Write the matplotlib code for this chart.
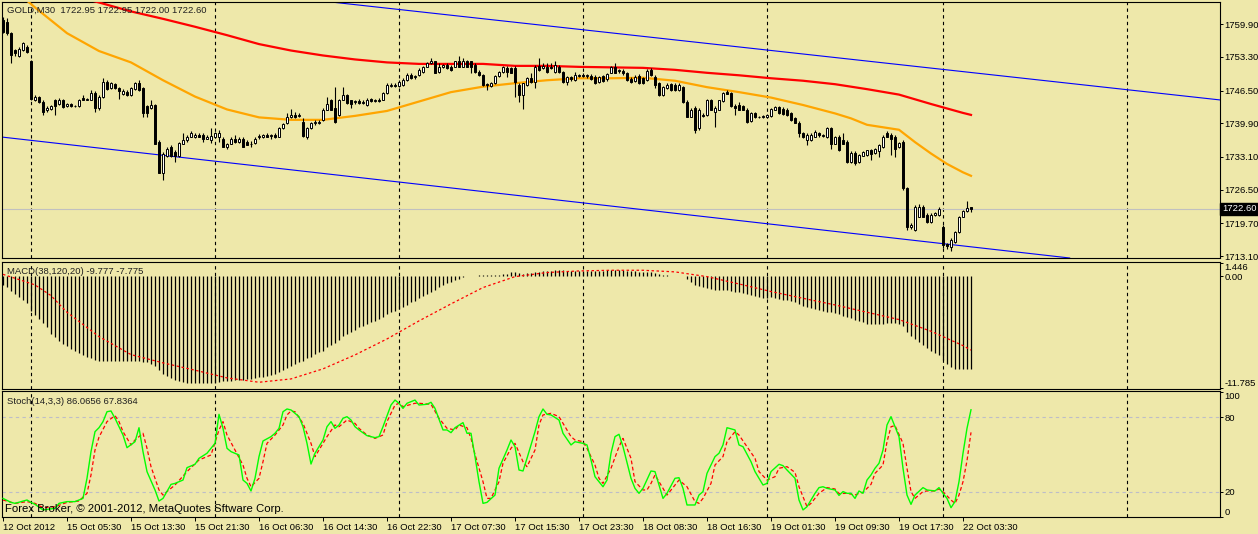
import matplotlib
matplotlib.use("Agg")
import matplotlib.pyplot as plt
from matplotlib.transforms import blended_transform_factory
import numpy as np

plt.rcParams['font.family'] = ['Liberation Sans', 'DejaVu Sans']

# ---------------- data (GOLD, M30) ----------------
opens = [
    1760.8, 1760.4, 1758.1, 1754.7, 1753.4, 1754.7, 1755.4, 1752.5, 1744.7, 1745.3,
    1744.3, 1742.6, 1742.7, 1744.6, 1743.8, 1744.6, 1743.3, 1743.8, 1743.3, 1743.3,
    1745.1, 1744.7, 1744.7, 1746.1, 1742.9, 1745.3, 1748.3, 1747.0, 1747.8, 1747.0,
    1745.8, 1746.3, 1745.6, 1746.8, 1748.1, 1747.0, 1743.3, 1742.9, 1743.6, 1736.2,
    1729.9, 1733.2, 1735.2, 1734.2, 1733.2, 1735.8, 1736.5, 1737.2, 1737.2, 1737.5,
    1737.5, 1736.8, 1736.5, 1737.1, 1737.1, 1736.8, 1735.1, 1735.8, 1736.8, 1736.2,
    1736.7, 1736.2, 1735.8, 1736.0, 1737.1, 1737.2, 1737.5, 1737.3, 1737.5, 1737.2,
    1738.9, 1739.9, 1741.1, 1741.6, 1741.4, 1740.2, 1737.2, 1738.9, 1739.9, 1740.0,
    1740.6, 1742.6, 1744.6, 1742.9, 1741.6, 1744.7, 1745.6, 1744.6, 1744.3, 1744.5,
    1744.1, 1743.6, 1744.8, 1744.4, 1744.6, 1744.7, 1746.1, 1747.4, 1747.6, 1747.4,
    1747.6, 1748.7, 1749.7, 1749.2, 1749.7, 1750.3, 1751.3, 1752.0, 1752.4, 1750.3,
    1751.3, 1751.7, 1751.3, 1751.3, 1752.4, 1751.3, 1752.4, 1752.4, 1751.7, 1750.3,
    1749.7, 1747.8, 1747.4, 1748.0, 1749.5, 1750.3, 1751.1, 1751.0, 1751.0, 1747.6,
    1745.6, 1747.6, 1749.0, 1748.3, 1751.5, 1751.0, 1751.3, 1751.3, 1750.3, 1751.3,
    1750.3, 1748.3, 1749.2, 1748.7, 1749.5, 1749.6, 1749.5, 1749.5, 1749.3, 1748.3,
    1749.5, 1748.8, 1750.1, 1751.3, 1750.4, 1750.5, 1750.1, 1748.8, 1748.5, 1749.5,
    1749.0, 1748.7, 1750.7, 1749.3, 1748.1, 1745.6, 1747.0, 1747.8, 1747.6, 1746.6,
    1747.2, 1744.3, 1741.2, 1742.9, 1738.9, 1741.6, 1741.6, 1744.6, 1742.2, 1742.6,
    1744.5, 1746.3, 1746.1, 1743.4, 1743.6, 1743.4, 1742.6, 1740.4, 1741.9, 1741.1,
    1741.2, 1741.2, 1741.4, 1742.6, 1743.1, 1742.7, 1742.6, 1741.9, 1740.9, 1740.0,
    1737.9, 1736.5, 1736.5, 1737.2, 1737.9, 1737.3, 1737.1, 1738.9, 1735.8, 1737.2,
    1736.5, 1736.2, 1732.1, 1734.0, 1732.1, 1733.3, 1733.5, 1734.5, 1734.0, 1734.4,
    1735.2, 1737.9, 1737.5, 1737.1, 1735.2, 1736.2, 1726.8, 1719.0, 1718.3, 1721.0,
    1723.1, 1721.4, 1720.0, 1721.4, 1721.4, 1719.0, 1715.5, 1715.0, 1716.0, 1718.0,
    1721.0, 1722.1, 1722.95,
]
highs = [
    1761.4, 1761.1, 1758.4, 1755.0, 1755.4, 1756.4, 1755.7, 1752.7, 1745.6, 1745.5,
    1744.6, 1743.4, 1743.6, 1744.8, 1745.1, 1744.9, 1744.1, 1744.0, 1743.6, 1744.9,
    1745.6, 1745.1, 1746.6, 1746.5, 1745.6, 1749.0, 1748.7, 1748.3, 1748.1, 1747.3,
    1746.8, 1746.6, 1747.2, 1748.3, 1748.7, 1747.2, 1743.6, 1744.6, 1743.9, 1736.5,
    1734.2, 1735.2, 1735.5, 1734.5, 1736.2, 1738.0, 1737.5, 1738.3, 1737.9, 1738.0,
    1738.0, 1737.5, 1738.9, 1738.2, 1738.5, 1737.2, 1736.0, 1737.2, 1737.5, 1737.2,
    1737.1, 1736.5, 1736.4, 1737.2, 1737.7, 1737.7, 1737.9, 1737.7, 1737.9, 1739.2,
    1740.0, 1741.9, 1742.7, 1742.2, 1741.9, 1740.9, 1739.2, 1740.2, 1740.6, 1740.6,
    1742.9, 1745.3, 1744.9, 1747.3, 1744.9, 1747.3, 1745.9, 1744.7, 1744.7, 1744.9,
    1744.6, 1745.1, 1745.1, 1744.9, 1745.0, 1746.3, 1748.0, 1748.0, 1748.1, 1748.7,
    1749.0, 1750.0, 1750.0, 1749.7, 1751.0, 1751.5, 1752.3, 1753.0, 1752.5, 1752.0,
    1751.9, 1752.0, 1751.7, 1752.5, 1753.5, 1753.0, 1752.7, 1752.5, 1752.0, 1750.7,
    1749.9, 1748.1, 1748.3, 1749.7, 1750.5, 1751.5, 1751.5, 1751.3, 1751.5, 1748.0,
    1748.1, 1749.2, 1750.1, 1751.7, 1753.0, 1752.0, 1752.0, 1752.0, 1752.4, 1751.7,
    1750.5, 1749.5, 1749.5, 1750.3, 1749.9, 1750.0, 1749.9, 1749.9, 1749.7, 1749.5,
    1749.7, 1750.1, 1751.5, 1752.1, 1750.8, 1750.8, 1750.3, 1749.2, 1749.7, 1749.9,
    1749.3, 1750.8, 1751.0, 1749.7, 1748.3, 1747.4, 1748.0, 1748.1, 1748.0, 1748.0,
    1747.4, 1744.6, 1742.9, 1743.3, 1742.9, 1741.9, 1744.9, 1744.9, 1743.3, 1744.7,
    1746.3, 1746.6, 1746.3, 1743.8, 1744.3, 1743.6, 1742.9, 1742.2, 1742.2, 1741.4,
    1741.5, 1741.8, 1742.9, 1743.4, 1743.4, 1743.1, 1742.9, 1742.2, 1741.2, 1740.4,
    1738.2, 1737.9, 1737.9, 1738.5, 1738.2, 1737.7, 1739.2, 1739.2, 1737.3, 1737.5,
    1737.9, 1736.5, 1734.4, 1734.4, 1733.7, 1734.4, 1734.6, 1734.8, 1735.0, 1735.7,
    1737.5, 1738.4, 1737.9, 1737.5, 1736.2, 1736.5, 1727.0, 1719.7, 1723.4, 1723.7,
    1723.4, 1721.7, 1721.7, 1722.0, 1722.9, 1719.4, 1715.8, 1716.7, 1718.2, 1721.2,
    1722.4, 1724.2, 1722.95,
]
lows = [
    1758.1, 1757.7, 1752.0, 1753.4, 1753.2, 1754.6, 1754.2, 1744.6, 1744.5, 1744.1,
    1741.6, 1742.2, 1742.6, 1741.6, 1743.6, 1742.9, 1743.1, 1743.1, 1743.1, 1743.1,
    1744.6, 1744.6, 1744.6, 1742.2, 1742.6, 1745.1, 1746.6, 1746.8, 1746.8, 1744.9,
    1745.6, 1745.5, 1745.4, 1746.6, 1746.5, 1741.2, 1741.2, 1742.7, 1735.7, 1729.8,
    1728.5, 1733.0, 1733.0, 1732.1, 1733.0, 1735.7, 1736.2, 1737.1, 1736.9, 1737.1,
    1736.2, 1736.7, 1736.0, 1736.9, 1736.2, 1735.1, 1734.8, 1735.7, 1736.0, 1736.0,
    1735.1, 1735.5, 1735.2, 1735.7, 1736.8, 1736.9, 1737.1, 1736.7, 1736.9, 1737.1,
    1738.7, 1739.8, 1740.9, 1740.9, 1741.1, 1737.2, 1736.7, 1738.7, 1739.6, 1739.8,
    1740.4, 1742.5, 1742.5, 1740.0, 1741.4, 1744.6, 1743.9, 1742.9, 1743.8, 1743.9,
    1743.8, 1743.4, 1744.3, 1744.2, 1744.2, 1744.6, 1745.9, 1747.2, 1747.2, 1747.2,
    1747.4, 1748.5, 1748.8, 1748.8, 1749.5, 1750.1, 1751.2, 1751.9, 1750.0, 1750.1,
    1751.1, 1750.8, 1750.5, 1751.2, 1751.2, 1751.2, 1751.2, 1750.0, 1750.1, 1749.5,
    1747.4, 1746.6, 1747.2, 1747.8, 1749.3, 1750.1, 1749.3, 1750.0, 1745.3, 1744.3,
    1742.7, 1747.4, 1748.1, 1747.0, 1750.5, 1750.8, 1750.1, 1750.8, 1750.1, 1750.1,
    1748.1, 1747.6, 1748.5, 1748.5, 1749.2, 1749.2, 1749.0, 1748.7, 1747.8, 1748.1,
    1748.3, 1748.5, 1750.0, 1750.0, 1750.0, 1749.7, 1748.5, 1748.1, 1748.3, 1747.8,
    1747.8, 1748.5, 1749.5, 1747.0, 1745.4, 1745.4, 1746.8, 1746.5, 1746.5, 1746.5,
    1744.1, 1741.1, 1741.1, 1738.0, 1738.5, 1741.1, 1741.4, 1742.5, 1739.2, 1742.5,
    1744.3, 1745.8, 1743.1, 1741.6, 1742.5, 1742.5, 1739.9, 1740.2, 1740.9, 1740.9,
    1741.0, 1741.0, 1741.2, 1742.5, 1741.8, 1741.6, 1741.4, 1740.4, 1739.9, 1737.2,
    1736.9, 1735.5, 1736.4, 1737.1, 1737.1, 1737.1, 1736.9, 1734.8, 1735.7, 1734.4,
    1735.7, 1731.9, 1731.8, 1731.5, 1731.9, 1733.2, 1733.3, 1732.4, 1733.8, 1733.0,
    1735.0, 1737.1, 1733.5, 1733.0, 1735.0, 1726.4, 1718.4, 1718.5, 1718.2, 1720.9,
    1720.9, 1719.8, 1719.8, 1721.2, 1721.2, 1714.8, 1714.6, 1714.2, 1715.8, 1717.8,
    1720.9, 1721.9, 1722.00,
]
closes = [
    1758.4, 1758.1, 1753.7, 1754.0, 1755.0, 1756.1, 1754.4, 1744.9, 1745.3, 1744.3,
    1742.2, 1742.9, 1743.4, 1743.3, 1744.7, 1743.1, 1743.8, 1743.3, 1743.4, 1744.7,
    1744.7, 1744.9, 1746.1, 1742.9, 1745.3, 1748.3, 1746.8, 1748.0, 1747.0, 1746.5,
    1746.5, 1745.6, 1747.0, 1748.0, 1746.6, 1741.9, 1741.9, 1743.6, 1735.8, 1729.9,
    1733.8, 1734.8, 1733.2, 1733.2, 1736.0, 1736.5, 1737.2, 1737.9, 1737.5, 1737.2,
    1736.8, 1737.2, 1737.3, 1737.9, 1738.0, 1735.2, 1735.8, 1736.8, 1736.2, 1736.8,
    1735.2, 1735.5, 1735.7, 1736.8, 1737.3, 1737.5, 1737.2, 1737.5, 1737.1, 1739.0,
    1739.8, 1741.2, 1741.6, 1741.2, 1741.6, 1737.3, 1739.0, 1739.9, 1740.2, 1740.2,
    1742.6, 1743.9, 1742.6, 1740.2, 1744.7, 1745.6, 1744.1, 1743.9, 1744.5, 1744.1,
    1744.3, 1744.7, 1744.4, 1744.6, 1744.5, 1746.1, 1747.6, 1747.6, 1747.4, 1748.3,
    1748.7, 1749.7, 1749.0, 1749.5, 1750.7, 1751.3, 1752.0, 1752.4, 1750.1, 1751.3,
    1751.7, 1751.0, 1750.7, 1752.4, 1751.3, 1752.4, 1751.3, 1751.3, 1750.3, 1749.7,
    1747.6, 1747.6, 1748.1, 1749.5, 1750.3, 1751.3, 1750.3, 1750.1, 1748.3, 1745.6,
    1748.0, 1749.0, 1748.3, 1751.3, 1750.7, 1751.5, 1750.3, 1751.0, 1751.7, 1750.3,
    1748.3, 1749.3, 1748.8, 1749.7, 1749.7, 1749.5, 1749.6, 1748.8, 1748.0, 1749.2,
    1748.5, 1749.9, 1751.3, 1750.1, 1750.7, 1750.0, 1748.7, 1748.3, 1749.3, 1748.0,
    1748.0, 1750.5, 1749.7, 1747.6, 1745.6, 1747.2, 1747.6, 1746.6, 1746.6, 1747.6,
    1744.3, 1741.2, 1742.6, 1738.5, 1742.6, 1741.4, 1744.7, 1742.6, 1742.9, 1744.6,
    1746.1, 1745.9, 1743.3, 1742.9, 1742.6, 1742.6, 1740.2, 1742.0, 1741.1, 1741.2,
    1741.2, 1741.6, 1742.7, 1743.1, 1741.9, 1741.8, 1741.6, 1740.6, 1740.0, 1737.9,
    1737.1, 1737.5, 1737.5, 1738.2, 1737.5, 1737.5, 1738.9, 1735.8, 1737.2, 1734.5,
    1735.8, 1732.1, 1734.0, 1731.9, 1733.5, 1734.2, 1734.5, 1733.8, 1734.8, 1735.5,
    1737.2, 1737.2, 1736.8, 1734.8, 1736.0, 1726.8, 1719.0, 1719.4, 1722.9, 1723.1,
    1721.0, 1720.0, 1721.4, 1721.7, 1722.5, 1715.3, 1715.1, 1716.3, 1718.0, 1720.9,
    1722.1, 1722.7, 1722.60,
]

# moving averages (orange = fast, red = slow), sampled along the bars
ma_fast_bars = [0, 8, 16, 24, 32, 40, 48, 56, 64, 72, 80, 88, 96, 104, 112, 120, 128,
                136, 144, 152, 160, 168, 176, 184, 192, 200, 208, 212, 216, 220, 224,
                228, 232, 236, 240, 242]
ma_fast = [1768.8, 1763.3, 1758.1, 1754.5, 1752.2, 1748.6, 1745.3, 1742.7, 1741.1,
           1740.6, 1740.6, 1741.4, 1742.4, 1744.3, 1746.2, 1747.3, 1748.0, 1748.6,
           1749.0, 1749.0, 1749.1, 1748.5, 1747.2, 1746.2, 1745.1, 1743.6, 1741.9,
           1740.9, 1739.6, 1739.1, 1738.6, 1736.1, 1733.8, 1731.7, 1730.0, 1729.3]
ma_slow_bars = [0, 8, 16, 24, 32, 40, 48, 56, 64, 72, 80, 88, 96, 104, 112, 120, 128,
                136, 144, 152, 160, 168, 176, 184, 192, 200, 208, 216, 224, 232, 240, 242]
ma_slow = [1769.5, 1767.8, 1766.0, 1764.3, 1762.5, 1761.0, 1759.4, 1757.7, 1755.9,
           1754.6, 1753.6, 1752.8, 1752.2, 1751.9, 1751.9, 1751.9, 1751.5, 1751.5,
           1751.3, 1751.2, 1751.1, 1750.7, 1750.1, 1749.6, 1749.0, 1748.5, 1747.8,
           1746.8, 1745.7, 1743.8, 1742.0, 1741.6]

# channel trend lines: two anchor points (bar, price) each
channel_upper = [(100, 1762.8), (300, 1745.0)]
channel_lower = [(0, 1737.1), (200, 1718.8)]
last_price = 1722.60
price_ticks = [1759.90, 1753.30, 1746.50, 1739.90, 1733.10, 1726.50, 1719.70, 1713.10]

# MACD(38,120,20)
macd_hist = [
    -0.91, -1.16, -1.51, -1.86, -2.21, -2.46, -2.81, -3.61, -4.07, -4.49,
    -4.95, -5.37, -6.07, -6.42, -6.77, -7.12, -7.37, -7.65, -7.89, -8.07,
    -8.28, -8.46, -8.63, -8.77, -8.88, -8.91, -8.95, -8.95, -8.95, -8.91,
    -8.91, -8.88, -8.88, -8.88, -8.91, -8.98, -9.05, -9.19, -9.47, -9.82,
    -10.28, -10.53, -10.74, -10.88, -11.02, -11.12, -11.19, -11.23, -11.26, -11.26,
    -11.26, -11.25, -11.24, -11.22, -11.12, -11.05, -11.05, -11.02, -10.95, -10.92,
    -10.88, -10.84, -10.77, -10.70, -10.65, -10.56, -10.46, -10.39, -10.28, -10.10,
    -9.86, -9.61, -9.40, -9.19, -8.98, -8.91, -8.63, -8.46, -8.21, -8.00,
    -7.82, -7.47, -7.23, -7.02, -6.67, -6.32, -6.07, -5.82, -5.61, -5.37,
    -5.19, -5.02, -4.84, -4.67, -4.49, -4.25, -3.96, -3.72, -3.61, -3.44,
    -3.26, -3.02, -2.74, -2.56, -2.32, -2.11, -1.86, -1.61, -1.40, -1.16,
    -0.91, -0.70, -0.56, -0.39, -0.28, -0.11, -0.02, 0.04, 0.06, 0.08,
    0.10, 0.10, 0.12, 0.14, 0.18, 0.25, 0.28, 0.42, 0.42, 0.32,
    0.28, 0.32, 0.35, 0.42, 0.49, 0.53, 0.56, 0.60, 0.70, 0.70,
    0.63, 0.60, 0.60, 0.60, 0.60, 0.60, 0.56, 0.56, 0.56, 0.60,
    0.60, 0.63, 0.70, 0.70, 0.67, 0.63, 0.60, 0.56, 0.53, 0.49,
    0.46, 0.46, 0.42, 0.35, 0.25, 0.18, 0.14, 0.07, 0.04, 0.00,
    -0.02, -0.28, -0.56, -0.91, -1.05, -1.16, -1.26, -1.33, -1.40, -1.44,
    -1.44, -1.47, -1.54, -1.61, -1.68, -1.75, -1.89, -1.96, -2.04, -2.18,
    -2.25, -2.25, -2.21, -2.32, -2.39, -2.46, -2.49, -2.56, -2.74, -2.91,
    -3.09, -3.26, -3.33, -3.44, -3.51, -3.61, -3.72, -3.79, -3.86, -3.96,
    -4.14, -4.32, -4.42, -4.56, -4.70, -4.84, -4.98, -5.05, -5.05, -5.05,
    -5.02, -4.95, -4.95, -4.95, -5.02, -5.26, -5.82, -6.32, -6.60, -6.95,
    -7.23, -7.58, -7.82, -8.07, -8.28, -8.77, -9.23, -9.58, -9.75, -9.75,
    -9.75, -9.76, -9.777,
]
macd_signal_bars = [0, 4, 8, 12, 16, 24, 32, 40, 48, 56, 64, 72, 80, 88, 96, 104, 112,
                    120, 128, 136, 144, 152, 160, 168, 176, 184, 192, 200, 208, 216,
                    224, 232, 240, 242]
macd_signal = [0.2, -0.35, -0.91, -2.04, -3.79, -6.35, -8.25, -9.12, -9.89, -10.7,
               -11.16, -10.81, -9.75, -8.28, -6.6, -4.7, -2.91, -1.19, -0.04, 0.39,
               0.56, 0.63, 0.63, 0.46, -0.04, -0.81, -1.61, -2.32, -3.02, -3.79,
               -4.56, -5.79, -7.30, -7.775]

# Stochastic(14,3,3): vertices (bar, value)
stoch_k_bars = [0, 2, 3, 6, 7, 8, 10, 13, 14, 16, 18, 20, 21, 22, 23, 24, 25, 26, 27, 28,
                30, 31, 33, 34, 35, 36, 38, 39, 40, 42, 43, 45, 46, 48, 49, 51, 53, 54,
                55, 56, 57, 59, 60, 61, 62, 63, 64, 65, 67, 68, 69, 70, 71, 72, 74, 75,
                76, 77, 78, 80, 81, 82, 83, 84, 85, 86, 87, 88, 89, 91, 93, 94, 95, 97,
                98, 99, 100, 101, 103, 104, 106, 107, 108, 110, 111, 112, 113, 115, 116,
                117, 118, 119, 120, 121, 123, 124, 126, 127, 128, 129, 130, 131, 133,
                134, 135, 136, 137, 139, 140, 142, 143, 145, 146, 147, 148, 150, 151,
                152, 153, 154, 155, 157, 158, 159, 160, 162, 163, 164, 165, 166, 168,
                169, 170, 171, 173, 174, 175, 176, 178, 179, 180, 181, 183, 184, 185,
                187, 188, 189, 190, 191, 192, 194, 195, 196, 198, 199, 200, 201, 203,
                204, 205, 206, 208, 209, 210, 211, 212, 213, 214, 215, 216, 217, 218,
                219, 220, 221, 222, 223, 224, 225, 226, 227, 228, 230, 231, 233, 234,
                235, 236, 237, 238, 239, 240, 241, 242]
stoch_k = [14.6, 11.4, 10.6, 13.3, 11.4, 9.8, 5.3, 6.6, 10.6, 12.0, 12.0, 14.6, 30.8,
           52.3, 68.4, 71.6, 76.5, 84.5, 85.1, 79.2, 65.7, 55.5, 60.3, 71.6, 52.3, 36.2,
           21.4, 12.5, 14.6, 25.9, 26.7, 29.4, 39.4, 42.1, 46.9, 51.0, 59.0, 82.4, 71.1,
           55.0, 52.3, 49.6, 29.4, 26.7, 20.6, 30.8, 48.3, 60.9, 64.4, 67.1, 71.1, 84.5,
           86.7, 85.9, 80.5, 72.4, 59.0, 42.3, 51.0, 61.7, 72.4, 76.5, 71.1, 73.8, 79.2,
           80.5, 77.8, 72.4, 69.8, 65.2, 63.6, 64.4, 72.4, 89.9, 93.9, 91.3, 87.2, 91.3,
           93.9, 89.9, 90.5, 92.1, 87.2, 69.8, 69.8, 67.6, 71.6, 75.7, 67.1, 67.1, 48.3,
           28.1, 10.6, 11.4, 17.3, 38.9, 53.6, 61.7, 56.3, 37.5, 36.7, 46.9, 68.4, 80.5,
           86.7, 82.4, 81.9, 77.8, 67.1, 57.7, 60.3, 59.0, 57.7, 45.6, 32.1, 24.0, 29.4,
           51.0, 64.4, 66.3, 56.3, 30.8, 22.7, 18.7, 22.7, 36.7, 36.2, 25.4, 14.6, 18.7,
           30.8, 31.3, 22.7, 9.3, 9.3, 17.3, 20.1, 34.8, 48.3, 51.0, 57.7, 71.6, 69.8,
           57.7, 56.3, 44.2, 36.2, 30.8, 25.4, 26.7, 36.2, 42.1, 41.0, 37.5, 30.8, 13.3,
           5.3, 7.9, 18.7, 23.3, 24.0, 22.7, 21.4, 17.0, 20.1, 18.7, 18.7, 14.6, 20.6,
           18.7, 29.4, 33.5, 38.9, 42.9, 53.6, 73.8, 80.5, 72.4, 64.4, 38.9, 17.3, 9.8,
           17.3, 23.3, 21.4, 20.6, 23.3, 18.7, 14.6, 7.1, 12.0, 28.1, 51.0, 71.1, 86.0656]
stoch_d_bars = [0, 3, 6, 8, 10, 13, 16, 19, 21, 22, 23, 24, 26, 28, 29, 30, 32, 33, 35,
                36, 37, 39, 40, 41, 43, 46, 49, 52, 54, 55, 56, 58, 60, 61, 62, 64, 65,
                66, 68, 70, 71, 72, 73, 75, 77, 78, 79, 81, 83, 84, 86, 88, 89, 91, 93,
                95, 96, 98, 99, 100, 103, 104, 107, 109, 111, 113, 114, 116, 117, 118,
                120, 121, 122, 124, 125, 127, 128, 130, 131, 133, 134, 135, 137, 139,
                140, 142, 143, 145, 146, 148, 149, 150, 152, 154, 155, 157, 158, 160,
                161, 162, 163, 165, 166, 168, 169, 171, 173, 174, 175, 177, 178, 180,
                181, 183, 184, 186, 188, 189, 191, 193, 194, 196, 198, 199, 201, 202,
                204, 206, 208, 209, 211, 213, 214, 215, 217, 218, 220, 221, 222, 223,
                225, 226, 227, 228, 230, 231, 233, 234, 235, 237, 238, 239, 240, 241, 242]
stoch_d = [13.3, 10.6, 12.0, 10.6, 7.1, 7.9, 11.4, 12.5, 18.7, 33.5, 53.6, 64.0, 76.5,
           81.3, 76.5, 68.4, 57.7, 61.7, 67.1, 55.0, 40.2, 21.4, 17.3, 20.1, 25.4, 36.2,
           45.6, 49.6, 69.8, 76.5, 65.7, 53.6, 41.5, 30.8, 24.0, 30.8, 44.2, 59.0, 65.7,
           73.8, 81.9, 85.1, 84.5, 75.1, 59.0, 48.3, 53.6, 64.4, 73.8, 72.4, 77.8, 75.1,
           71.1, 65.7, 63.0, 65.7, 76.5, 89.9, 91.3, 88.6, 91.3, 91.3, 90.5, 79.2, 71.1,
           69.8, 73.8, 71.6, 63.0, 50.0, 28.1, 14.6, 14.6, 28.1, 42.9, 55.0, 59.0, 44.2,
           40.2, 53.6, 73.8, 81.9, 83.2, 80.5, 75.1, 64.4, 61.7, 60.3, 55.0, 41.5, 30.8,
           26.7, 38.9, 56.3, 63.0, 46.9, 28.1, 21.4, 21.4, 26.7, 33.5, 22.7, 17.3, 25.4,
           29.4, 24.0, 12.0, 10.6, 14.6, 26.7, 41.5, 48.3, 60.3, 68.4, 65.7, 56.3, 46.9,
           36.2, 29.4, 32.1, 38.9, 40.2, 35.6, 24.0, 7.9, 10.6, 18.7, 23.3, 22.2, 18.5,
           18.7, 17.3, 18.7, 19.5, 25.9, 34.8, 41.5, 60.3, 72.4, 73.3, 59.0, 38.9, 20.1,
           14.6, 20.1, 20.6, 20.6, 22.2, 20.0, 13.3, 10.6, 17.3, 28.0, 45.0, 67.8364]

separator_bars = [7, 53, 99, 145, 191, 235, 281]
time_label_bars = [0, 16, 32, 48, 64, 80, 96, 112, 128, 144, 160, 176, 192, 208, 224, 240]
time_labels = ["12 Oct 2012", "15 Oct 05:30", "15 Oct 13:30", "15 Oct 21:30",
               "16 Oct 06:30", "16 Oct 14:30", "16 Oct 22:30", "17 Oct 07:30",
               "17 Oct 15:30", "17 Oct 23:30", "18 Oct 08:30", "18 Oct 16:30",
               "19 Oct 01:30", "19 Oct 09:30", "19 Oct 17:30", "22 Oct 03:30"]

# ---------------- figure ----------------
BG = '#EEE8AA'
FS = 6.8
W, H = 1258, 534
fig = plt.figure(figsize=(W / 100, H / 100), dpi=100, facecolor=BG)


def px_axes(left, top, right, bottom):
    return fig.add_axes([left / W, 1 - bottom / H, (right - left) / W, (bottom - top) / H])


ax_p = px_axes(2, 2, 1220, 258)
ax_m = px_axes(2, 262, 1220, 389)
ax_s = px_axes(2, 391, 1220, 517)

for ax in (ax_p, ax_m, ax_s):
    ax.set_facecolor(BG)
    ax.set_xlim(-0.25, 304.25)
    for sp in ax.spines.values():
        sp.set_color('black')
        sp.set_linewidth(0.8)
    ax.yaxis.tick_right()
    ax.tick_params(axis='y', direction='out', length=2.2, width=0.7, pad=1.2,
                   labelsize=FS, colors='black')
    for b in separator_bars:
        ax.axvline(b, color='black', lw=0.8, ls=(0, (3, 3)), zorder=1)

ax_p.set_xticks([])
ax_m.set_xticks([])

# ---- price panel ----
x = np.arange(len(closes))
o = np.array(opens)
hi = np.array(highs)
lo = np.array(lows)
c = np.array(closes)
up = c >= o

ax_p.set_ylim(1712.7, 1764.4)
ax_p.axhline(last_price, color='#C0C0C0', lw=0.8, zorder=1)
ax_p.axline(channel_upper[0], channel_upper[1], color='#0000FF', lw=0.8, zorder=2)
ax_p.axline(channel_lower[0], channel_lower[1], color='#0000FF', lw=0.8, zorder=2)
ax_p.plot(ma_slow_bars, ma_slow, color='#FF0000', lw=1.6, zorder=3)
ax_p.plot(ma_fast_bars, ma_fast, color='#FFA500', lw=1.6, zorder=3)

ax_p.vlines(x, lo, hi, color='black', lw=0.8, zorder=4)
body_lo = np.minimum(o, c)
body_h = np.maximum(np.abs(c - o), 0.08)
ax_p.bar(x[up], body_h[up], bottom=body_lo[up], width=0.62, color='white',
         edgecolor='black', linewidth=0.7, zorder=5)
ax_p.bar(x[~up], body_h[~up], bottom=body_lo[~up], width=0.62, color='black',
         edgecolor='black', linewidth=0.7, zorder=5)

ax_p.set_yticks(price_ticks)
ax_p.set_yticklabels([f"{v:.2f}" for v in price_ticks])
tr = blended_transform_factory(ax_p.transAxes, ax_p.transData)
ax_p.text(1.0015, last_price, f"{last_price:.2f}", transform=tr, ha='left', va='center',
          fontsize=FS, color='white', clip_on=False,
          bbox=dict(boxstyle='square,pad=0.2', fc='black', ec='black'))

# ---- MACD panel ----
ax_m.set_ylim(-11.87, 1.5)
ax_m.vlines(x, 0, macd_hist, color='black', lw=0.9, zorder=3)
ax_m.plot(macd_signal_bars, macd_signal, color='#FF0000', lw=0.9, ls=(0, (2, 2)), zorder=4)
ax_m.set_yticks([1.446, 0.0, -11.785])
ax_m.set_yticklabels(['1.446', '0.00', '-11.785'])
labs = ax_m.get_yticklabels()
labs[0].set_va('top')
labs[2].set_va('bottom')

# ---- Stochastic panel ----
ax_s.set_ylim(-0.4, 101.2)
for lvl in (20, 80):
    ax_s.axhline(lvl, color='#BDBDC8', lw=0.8, ls=(0, (3, 3)), zorder=1)
ax_s.plot(stoch_k_bars, stoch_k, color='#00FF00', lw=1.0, zorder=4)
ax_s.plot(stoch_d_bars, stoch_d, color='#FF0000', lw=0.9, ls=(0, (3, 2)), zorder=3)
ax_s.set_yticks([100, 80, 20, 0])
ax_s.set_yticklabels(['100', '80', '20', '0'])
labs = ax_s.get_yticklabels()
labs[0].set_va('top')
labs[3].set_va('bottom')

ax_s.set_xticks(time_label_bars)
ax_s.set_xticklabels(time_labels, ha='left')
ax_s.tick_params(axis='x', direction='out', length=3, width=0.7, pad=1.5,
                 labelsize=FS, colors='black')

# ---- legends / captions ----
fig.text(7 / W, 1 - 10.5 / H, "GOLD,M30  1722.95 1722.95 1722.00 1722.60",
         fontsize=FS, va='center', ha='left', color='#202020')
fig.text(7 / W, 1 - 271 / H, "MACD(38,120,20) -9.777 -7.775",
         fontsize=FS, va='center', ha='left', color='#202020')
fig.text(7 / W, 1 - 401 / H, "Stoch(14,3,3) 86.0656 67.8364",
         fontsize=FS, va='center', ha='left', color='#202020')
fig.text(5 / W, 1 - 509.5 / H, "Forex Broker, \u00a9 2001-2012, MetaQuotes Sftware Corp.",
         fontsize=8.2, va='center', ha='left', color='black')

fig.savefig("out.png", dpi=100, facecolor=BG)
